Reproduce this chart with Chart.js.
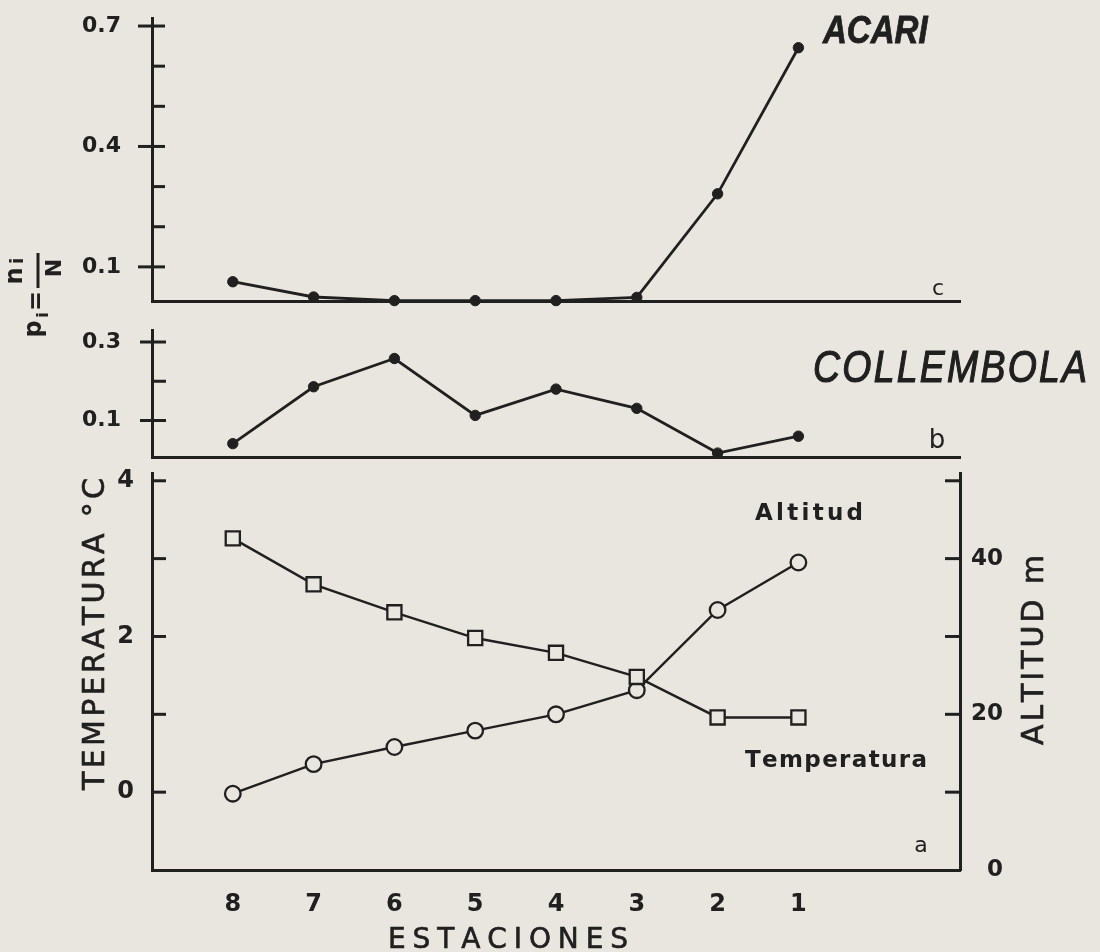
<!DOCTYPE html>
<html><head><meta charset="utf-8">
<script src="https://cdn.jsdelivr.net/npm/chart.js@4.4.1/dist/chart.umd.min.js"></script>
<style>
html,body{margin:0;padding:0;background:#e9e6df;}
#wrap{position:relative;width:1100px;height:952px;overflow:hidden;background:#e9e6df;}
canvas{position:absolute;left:0;top:0;}
</style></head>
<body><div id="wrap">
<canvas id="cC" width="1100" height="952"></canvas>
<canvas id="cB" width="1100" height="952"></canvas>
<canvas id="cA" width="1100" height="952"></canvas>
</div>
<script>
// ---------- data ----------
const stations = [8, 7, 6, 5, 4, 3, 2, 1];
const acari = [0.063, 0.025, 0.016, 0.016, 0.016, 0.024, 0.282, 0.646];
const collembola = [0.041, 0.186, 0.258, 0.113, 0.18, 0.131, 0.017, 0.06];
const temperatura = [3.26, 2.67, 2.31, 1.98, 1.79, 1.48, 0.96, 0.96];
const altitud = [9.8, 13.6, 15.8, 17.9, 20.0, 23.1, 33.4, 39.5];
const stationTicks = [8, 7, 6, 5, 4, 3, 2, 1];
const acariTicks = [0.1, 0.2, 0.3, 0.4, 0.5, 0.6, 0.7];
const acariLabels = [0.1, 0.4, 0.7];
const collTicks = [0.1, 0.2, 0.3];
const collLabels = [0.1, 0.3];
const tempTicks = [0, 1, 2, 3, 4];
const tempLabels = [0, 2, 4];
const altTicks = [0, 10, 20, 30, 40, 50];
const altLabels = [0, 20, 40];

// ---------- style ----------
const INK = '#202020';
const PAPER = '#e9e6df';
Chart.defaults.font.family = '"DejaVu Sans", sans-serif';
Chart.defaults.color = INK;

const has = (arr, v) => arr.some(a => Math.abs(a - v) < 1e-9);
const pts = (ys) => stations.map((s, i) => ({x: s, y: ys[i]}));

function spaced(ctx, text, x, y, width, stroke) {
  const chars = [...text];
  const ws = chars.map(c => ctx.measureText(c).width);
  const sum = ws.reduce((a, b) => a + b, 0);
  const sp = width != null ? (width - sum) / (chars.length - 1) : 0;
  ctx.textAlign = 'left';
  let cx = x;
  chars.forEach((c, i) => {
    ctx.fillText(c, cx, y);
    if (stroke) ctx.strokeText(c, cx, y);
    cx += ws[i] + sp;
  });
}

function tickPlugin(specs) {
  return {
    id: 'tickmarks',
    afterDraw(chart) {
      const ctx = chart.ctx, ca = chart.chartArea;
      ctx.save();
      ctx.strokeStyle = INK; ctx.lineWidth = 3; ctx.lineCap = 'butt';
      specs.forEach(sp => {
        const sc = chart.scales[sp.id];
        const x0 = sp.side === 'left' ? ca.left : ca.right;
        const dir = sp.side === 'left' ? 1 : -1;
        sp.values.forEach(v => {
          const y = sc.getPixelForValue(v);
          const out = sp.crossed && has(sp.crossed, v) ? sp.outLen : 0;
          ctx.beginPath();
          ctx.moveTo(x0 - dir * out, y);
          ctx.lineTo(x0 + dir * sp.inLen, y);
          ctx.stroke();
        });
      });
      ctx.restore();
    }
  };
}

function textPlugin(fn) {
  return { id: 'texts', afterDraw(chart) { const ctx = chart.ctx; ctx.save(); ctx.fillStyle = INK; ctx.strokeStyle = INK; fn(ctx, chart); ctx.restore(); } };
}

function xScale(height, showLabels) {
  return {
    type: 'linear', min: -1, max: 9, reverse: true,
    afterBuildTicks: s => { s.ticks = stationTicks.map(v => ({value: v})); },
    afterFit: s => { s.height = height; s.paddingLeft = 0; s.paddingRight = 0; },
    grid: {display: false, drawTicks: false},
    border: {display: true, color: INK, width: 3},
    ticks: {display: showLabels, autoSkip: false, maxRotation: 0, minRotation: 0, padding: 20, color: INK,
      font: {family: '"DejaVu Sans"', size: 24, weight: 'bold'}, callback: v => String(v)}
  };
}

function yScale(opts) {
  return {
    type: 'linear', position: opts.position, min: opts.min, max: opts.max,
    afterBuildTicks: s => { s.ticks = opts.ticks.map(v => ({value: v})); },
    afterFit: s => { s.width = opts.width; s.paddingTop = 0; s.paddingBottom = 0; },
    grid: {display: false, drawTicks: false},
    border: {display: true, color: INK, width: 3},
    ticks: {autoSkip: false, crossAlign: opts.crossAlign, padding: opts.padding, color: INK,
      font: {family: '"DejaVu Sans"', size: opts.size, weight: 'bold'},
      callback: v => has(opts.labels, v) ? opts.fmt(v) : ''}
  };
}

function lineDs(data, extra) {
  return Object.assign({
    data: data, borderColor: INK, borderWidth: 2.8, clip: false,
    pointRadius: 5.2, pointBackgroundColor: INK, pointBorderColor: INK, pointBorderWidth: 1,
    tension: 0, fill: false
  }, extra || {});
}

const baseOpts = {responsive: false, animation: false, devicePixelRatio: 1,
  plugins: {legend: {display: false}, tooltip: {enabled: false}}, events: []};

// ---------- panel c : ACARI ----------
new Chart(document.getElementById('cC'), {
  type: 'line',
  data: {datasets: [lineDs(pts(acari))]},
  options: Object.assign({}, baseOpts, {
    layout: {padding: {left: 82, right: 140, top: 18, bottom: 0}},
    scales: {
      x: xScale(952 - 301, false),
      y: yScale({position: 'left', min: 0.015, max: 0.72, ticks: acariTicks, labels: acariLabels,
        width: 70, crossAlign: 'far', padding: 0, size: 22, fmt: v => v.toFixed(1)})
    }
  }),
  plugins: [
    tickPlugin([{id: 'y', side: 'left', values: acariTicks, crossed: acariLabels, inLen: 13, outLen: 14}]),
    textPlugin((ctx) => {
      ctx.save();
      ctx.font = 'italic bold 38px "Liberation Sans"';
      ctx.translate(823, 43); ctx.scale(0.87, 1);
      ctx.textAlign = 'left'; ctx.textBaseline = 'alphabetic';
      ctx.lineWidth = 0.8;
      ctx.fillText('ACARI', 0, 0);
      ctx.strokeText('ACARI', 0, 0);
      ctx.restore();
      ctx.font = '22px "DejaVu Sans"'; ctx.textAlign = 'center'; ctx.textBaseline = 'alphabetic';
      ctx.fillText('c', 938, 295);
      // p_i = n_i / N (rotated)
      const rot = (t, x, y, f) => {
        ctx.save(); ctx.translate(x, y); ctx.rotate(-Math.PI / 2);
        ctx.font = f; ctx.textAlign = 'center'; ctx.textBaseline = 'middle';
        ctx.fillText(t, 0, 0); ctx.restore();
      };
      rot('p', 35, 329, 'bold 24px "DejaVu Sans"');
      rot('i', 44, 315, 'bold 16px "DejaVu Sans"');
      rot('=', 38, 301, 'bold 24px "DejaVu Sans"');
      rot('n', 16, 276, 'bold 24px "DejaVu Sans"');
      rot('i', 18, 261, 'bold 18px "DejaVu Sans"');
      rot('N', 55, 268, 'bold 22px "DejaVu Sans"');
      ctx.lineWidth = 3;
      ctx.beginPath(); ctx.moveTo(38, 253); ctx.lineTo(38, 288); ctx.stroke();
    })
  ]
});

// ---------- panel b : COLLEMBOLA ----------
new Chart(document.getElementById('cB'), {
  type: 'line',
  data: {datasets: [lineDs(pts(collembola))]},
  options: Object.assign({}, baseOpts, {
    layout: {padding: {left: 82, right: 140, top: 330, bottom: 0}},
    scales: {
      x: xScale(952 - 457, false),
      y: yScale({position: 'left', min: 0.007, max: 0.3306, ticks: collTicks, labels: collLabels,
        width: 70, crossAlign: 'far', padding: 0, size: 22, fmt: v => v.toFixed(1)})
    }
  }),
  plugins: [
    tickPlugin([{id: 'y', side: 'left', values: collTicks, crossed: collLabels, inLen: 14, outLen: 12}]),
    textPlugin((ctx) => {
      ctx.save();
      ctx.font = 'italic 44px "Liberation Sans"';
      ctx.translate(813, 382); ctx.scale(0.85, 1);
      ctx.textBaseline = 'alphabetic';
      ctx.lineWidth = 1.2;
      spaced(ctx, 'COLLEMBOLA', 0, 0, 274 / 0.85, true);
      ctx.restore();
      ctx.font = '26px "DejaVu Sans"'; ctx.textAlign = 'center'; ctx.textBaseline = 'alphabetic';
      ctx.fillText('b', 937, 448);
    })
  ]
});

// ---------- panel a : Temperatura / Altitud ----------
new Chart(document.getElementById('cA'), {
  type: 'line',
  data: {datasets: [
    lineDs(pts(temperatura), {yAxisID: 'y', pointStyle: 'rect', pointRadius: 10, pointBorderWidth: 2.3,
      pointBackgroundColor: PAPER, borderWidth: 2.4}),
    lineDs(pts(altitud), {yAxisID: 'y2', pointStyle: 'circle', pointRadius: 7.8, pointBorderWidth: 2.3,
      pointBackgroundColor: PAPER, borderWidth: 2.4})
  ]},
  options: Object.assign({}, baseOpts, {
    layout: {padding: {left: 0, right: 97, top: 473, bottom: 0}},
    scales: {
      x: xScale(82, true),
      y: yScale({position: 'left', min: -1, max: 4.1, ticks: tempTicks, labels: tempLabels,
        width: 152, crossAlign: 'near', padding: 18, size: 24, fmt: v => String(v)}),
      y2: yScale({position: 'right', min: 0, max: 51, ticks: altTicks, labels: altLabels,
        width: 43, crossAlign: 'far', padding: 0, size: 23, fmt: v => String(v)})
    }
  }),
  plugins: [
    tickPlugin([
      {id: 'y', side: 'left', values: tempTicks, inLen: 14, outLen: 0},
      {id: 'y2', side: 'right', values: altTicks.filter(v => v > 0), inLen: 15, outLen: 0}
    ]),
    textPlugin((ctx, chart) => {
      ctx.textBaseline = 'alphabetic';
      ctx.font = 'bold 23px "DejaVu Sans"';
      spaced(ctx, 'Altitud', 755, 520, 108);
      spaced(ctx, 'Temperatura', 745, 767, 182);
      ctx.font = '22px "DejaVu Sans"'; ctx.textAlign = 'center';
      ctx.fillText('a', 921, 852);
      // axis titles
      ctx.font = '30px "DejaVu Sans"';
      ctx.lineWidth = 0.6;
      ctx.save(); ctx.translate(104, 790); ctx.rotate(-Math.PI / 2);
      spaced(ctx, 'TEMPERATURA °C', 0, 0, 312, true); ctx.restore();
      ctx.save(); ctx.translate(1043, 745); ctx.rotate(-Math.PI / 2);
      spaced(ctx, 'ALTITUD m', 0, 0, 190, true); ctx.restore();
      ctx.font = '28px "DejaVu Sans"';
      spaced(ctx, 'ESTACIONES', 388, 948, 240, true);
    })
  ]
});
</script>
</body></html>
